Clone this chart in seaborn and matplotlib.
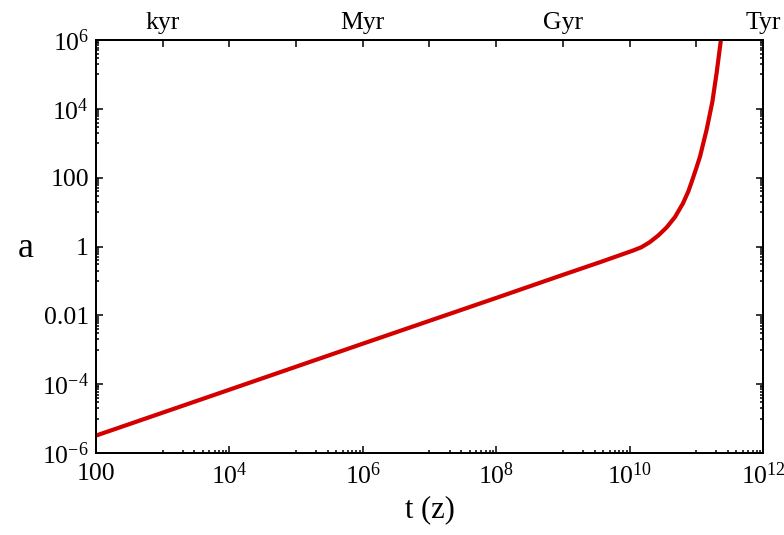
import numpy as np
import matplotlib
matplotlib.use("Agg")
import matplotlib.pyplot as plt
import matplotlib.ticker as mticker
import pandas as pd
import seaborn as sns

# scale factor a against cosmic time t (years)
t_years = [1e2, 1e4, 1e6, 1e8, 1e9, 3.6e9, 1.12e10, 1.5e10, 2.0e10, 2.7e10,
           3.6e10, 4.8e10, 6.3e10, 7.6e10, 8.5e10, 1.01e11, 1.14e11, 1.43e11,
           1.74e11, 2.02e11, 2.32e11, 2.51e11]
a_scale = [3.2e-6, 6.9e-5, 1.5e-3, 3.2e-2, 0.15, 0.35, 0.76, 0.95, 1.33, 2.1,
           3.6, 7.2, 17.8, 40, 74, 200, 417, 2500,
           1.58e4, 1.12e5, 8.9e5, 2.8e6]

x_ticks = [1e2, 1e4, 1e6, 1e8, 1e10, 1e12]
x_ticklabels = ["100", "$10^{4}$", "$10^{6}$", "$10^{8}$", "$10^{10}$", "$10^{12}$"]
y_ticks = [1e-6, 1e-4, 1e-2, 1, 1e2, 1e4, 1e6]
y_ticklabels = ["$10^{-6}$", "$10^{-4}$", "0.01", "1", "100", "$10^{4}$", "$10^{6}$"]
top_ticks = [1e3, 1e6, 1e9, 1e12]
top_ticklabels = ["kyr", "Myr", "Gyr", "Tyr"]

sns.set_theme(style="ticks")
plt.rcParams['font.family'] = ['Liberation Serif', 'DejaVu Serif']
plt.rcParams['mathtext.fontset'] = 'custom'
plt.rcParams['mathtext.rm'] = 'Liberation Serif'
plt.rcParams['mathtext.it'] = 'Liberation Serif:italic'
plt.rcParams['mathtext.default'] = 'regular'
plt.rcParams['text.color'] = 'black'
plt.rcParams['axes.labelcolor'] = 'black'

df = pd.DataFrame({"t": t_years, "a": a_scale})

fig = plt.figure(figsize=(7.84, 5.35), dpi=100)
ax = fig.add_axes([0.1224, 0.1533, 0.8508, 0.7719])
sns.lineplot(data=df, x="t", y="a", ax=ax, color="#d40000", linewidth=3.0, sort=False)
ax.set_xscale("log")
ax.set_yscale("log")
ax.set_xlim(1e2, 1e12)
ax.set_ylim(1e-6, 1e6)

# mathematica-like minor ticks: 1..9 x 10^odd
def odd_minor(lo, hi):
    return [k * 10.0 ** n for n in range(lo, hi, 2) for k in range(1, 10)]

ax.set_xticks(x_ticks)
ax.set_xticklabels(x_ticklabels)
ax.xaxis.set_minor_locator(mticker.FixedLocator(odd_minor(3, 12)))
ax.xaxis.set_minor_formatter(mticker.NullFormatter())
ax.set_yticks(y_ticks)
ax.set_yticklabels(y_ticklabels)
ax.yaxis.set_minor_locator(mticker.FixedLocator(odd_minor(-5, 6)))
ax.yaxis.set_minor_formatter(mticker.NullFormatter())

ax.tick_params(which="both", direction="in", top=False, right=True, labelsize=18.5,
               width=1.1, color="black", labelcolor="black")
ax.tick_params(which="major", length=5)
ax.tick_params(which="minor", length=2.5)
ax.tick_params(axis="x", which="major", pad=7)
ax.tick_params(axis="y", which="major", pad=5)
for s in ax.spines.values():
    s.set_linewidth(1.4)
    s.set_color("black")

ax.set_xlabel("t (z)", fontsize=22, labelpad=4)
ax.set_ylabel("a", fontsize=26, rotation=0, va="center", ha="center")
ax.yaxis.set_label_coords(-0.105, 0.495)

top = ax.twiny()
top.set_xscale("log")
top.set_xlim(ax.get_xlim())
top.xaxis.set_major_locator(mticker.FixedLocator([10.0 ** n for n in range(2, 13)]))
top.xaxis.set_minor_locator(mticker.NullLocator())
top.set_xticklabels(["" if 10.0 ** n not in top_ticks else top_ticklabels[top_ticks.index(10.0 ** n)]
                     for n in range(2, 13)])
top.tick_params(axis="x", direction="in", length=5, width=1.1, labelsize=18.5, pad=4,
                color="black", labelcolor="black")
for s in top.spines.values():
    s.set_linewidth(1.4)
    s.set_color("black")

fig.savefig("out.png", dpi=100)
